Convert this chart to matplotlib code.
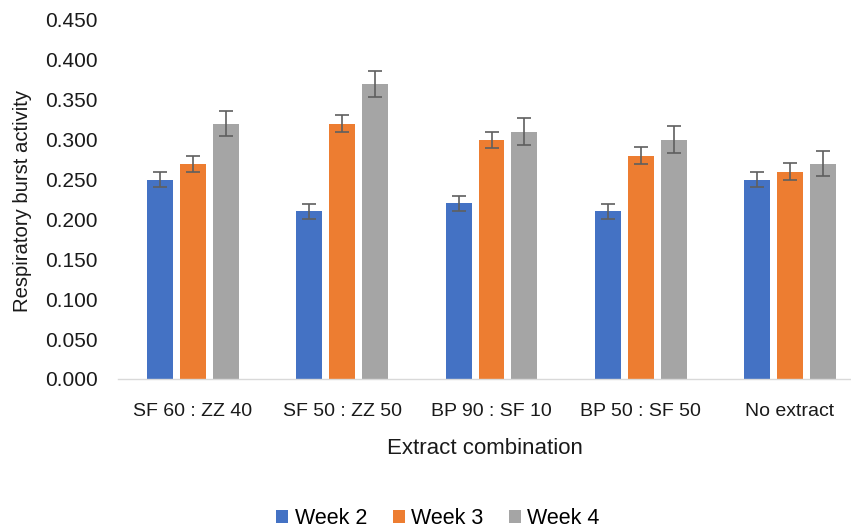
import matplotlib
matplotlib.use("Agg")
import matplotlib.pyplot as plt
import numpy as np
from matplotlib.ticker import FormatStrFormatter

plt.rcParams['font.family'] = ['Liberation Sans', 'DejaVu Sans']

categories = ["SF 60 : ZZ 40", "SF 50 : ZZ 50", "BP 90 : SF 10", "BP 50 : SF 50", "No extract"]
series_names = ["Week 2", "Week 3", "Week 4"]
week2 = [0.25, 0.21, 0.22, 0.21, 0.25]
week3 = [0.27, 0.32, 0.30, 0.28, 0.26]
week4 = [0.32, 0.37, 0.31, 0.30, 0.27]
err2 = [0.0095, 0.009, 0.010, 0.009, 0.0095]
err3 = [0.010, 0.011, 0.010, 0.011, 0.011]
err4 = [0.016, 0.016, 0.017, 0.017, 0.016]
colors = ["#4472C4", "#ED7D31", "#A5A5A5"]

fig = plt.figure(figsize=(8.51, 5.29), dpi=100)
ax = fig.add_axes([118.4/851, 1-379/529, (864.6-118.4)/851, (379-20)/529])

x = np.arange(len(categories))
pitch = 0.221
width = 0.174
for i, (vals, errs) in enumerate(zip([week2, week3, week4], [err2, err3, err4])):
    ax.bar(x + (i-1)*pitch, vals, width, color=colors[i], label=series_names[i],
           yerr=errs, error_kw=dict(ecolor="#5f5f5f", elinewidth=1.2, capsize=5, capthick=1.2))

ax.set_xlim(-0.5, len(categories)-0.5)
ax.set_ylim(0, 0.45)
ax.set_yticks(np.arange(0, 0.451, 0.05))
ax.yaxis.set_major_formatter(FormatStrFormatter('%.3f'))
ax.set_xticks(x)
ax.set_xticklabels(categories)
for s in ['top', 'right', 'left']:
    ax.spines[s].set_visible(False)
ax.spines['bottom'].set_color('#d9d9d9')
ax.spines['bottom'].set_linewidth(1.0)
ax.tick_params(axis='y', length=0, pad=15, labelsize=15, labelcolor='#1a1a1a')
ax.tick_params(axis='x', length=0, pad=17, labelsize=14, labelcolor='#1a1a1a')

fig.text(23/851, 1-201/529, "Respiratory burst activity", rotation=90, ha='center', va='center', fontsize=14.6, color='#1a1a1a')
fig.text(485/851, 1-448/529, "Extract combination", ha='center', va='center', fontsize=16, color='#1a1a1a')

leg = fig.legend(loc='center', bbox_to_anchor=(438/851, 1-519/529), ncol=3, frameon=False,
                 fontsize=15.5, handlelength=0.55, handleheight=0.55, handletextpad=0.3,
                 columnspacing=1.2)

fig.savefig("out.png", dpi=100)
